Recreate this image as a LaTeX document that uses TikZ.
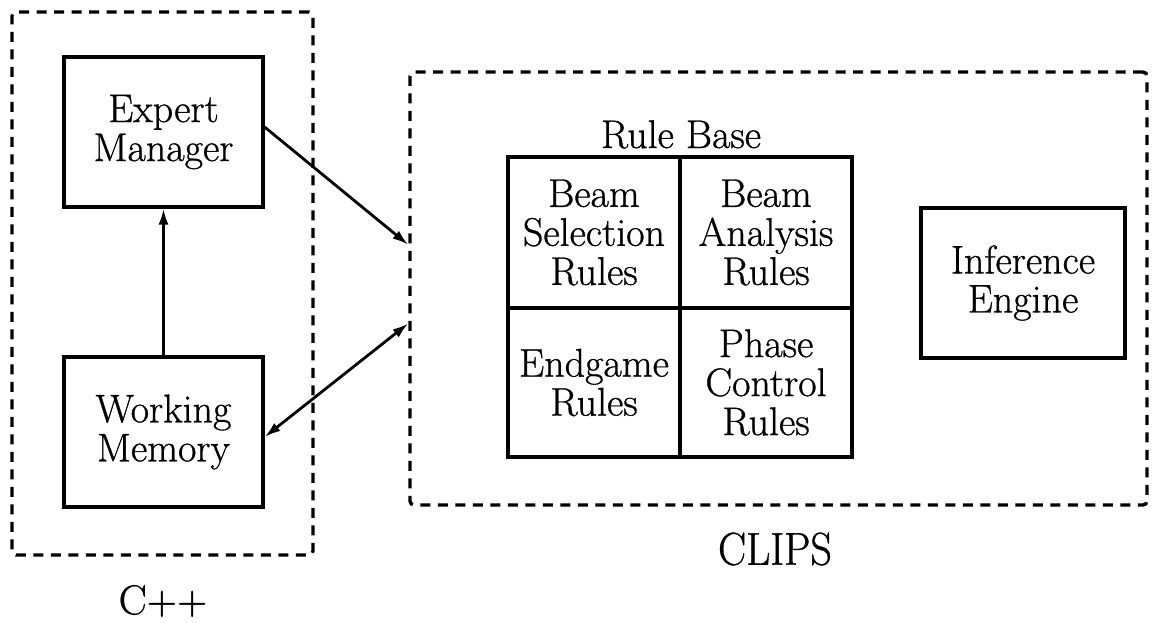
\documentclass[tikz,border=0pt]{standalone}
\usepackage{fontspec}
\setmainfont{Latin Modern Roman}[FakeBold=0.8]
\usetikzlibrary{arrows.meta,calc}
\begin{document}
\begin{tikzpicture}[x=1pt,y=-1pt,
  txt/.style={font=\fontsize{40}{39}\selectfont, align=center, inner sep=0pt},
  box/.style={txt, draw, line width=3.2pt},
  group/.style={draw, line width=3.4pt, dash pattern=on 10pt off 7.5pt, rounded corners=4pt, inner sep=0pt},
  conn/.style={line width=2.8pt, -{Latex[length=16pt,width=10pt]}},
  biconn/.style={line width=2.8pt, {Latex[length=16pt,width=10pt]}-{Latex[length=16pt,width=10pt]}},
  biglabel/.style={font=\fontsize{42}{44}\selectfont, inner sep=0pt}]
\fill[white] (0,0) rectangle (1155,622);
\useasboundingbox (0,0) rectangle (1155,622);
% groups
\node[group, minimum width=301pt, minimum height=543pt] (cpp) at (162.5,283.5) {};
\node[group, minimum width=737pt, minimum height=433pt] (clips) at (778.5,288.5) {};
% C++ side
\node[box, minimum width=199pt, minimum height=150pt] (em) at (163.5,132) {Expert\\Manager};
\node[box, minimum width=199pt, minimum height=150pt] (wm) at (163.5,432) {Working\\Memory};
% Rule base
\node[box, minimum width=172pt, minimum height=151pt] (bs) at (594,232.5) {Beam\\Selection\\Rules};
\node[box, minimum width=172pt, minimum height=151pt] (ba) at (766,232.5) {Beam\\Analysis\\Rules};
\node[box, minimum width=172pt, minimum height=149pt] (eg) at (594,382.5) {Endgame\\Rules};
\node[box, minimum width=172pt, minimum height=149pt] (pc) at (766,382.5) {Phase\\Control\\Rules};
\node[txt, anchor=base] (rb) at (681,148) {Rule Base};
% inference engine
\node[box, minimum width=204pt, minimum height=150pt] (ie) at (1023,283) {Inference\\Engine};
% labels
\node[biglabel] (cpplab) at (163,601) {C++};
\node[biglabel, yscale=1.1] (clipslab) at (775,549) {CLIPS};
% connectors
\coordinate (t1) at ($(clips.north west)!0.40!(clips.south west)$);
\coordinate (t2) at ($(clips.north west)!0.58!(clips.south west)$);
\draw[conn] (wm.north) -- (em.south);
\draw[conn] ([yshift=5pt]em.east) -- (t1);
\draw[biconn] ([yshift=-5pt]wm.east) -- (t2);
\end{tikzpicture}
\end{document}
